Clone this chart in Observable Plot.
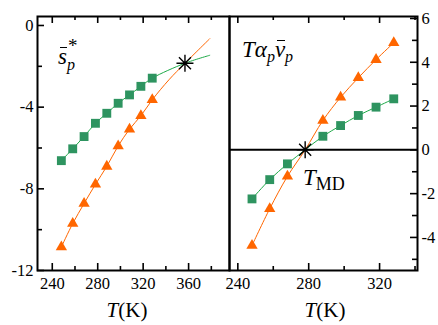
<!DOCTYPE html>
<html><head><meta charset="utf-8">
<script src="https://cdn.jsdelivr.net/npm/d3@7"></script>
<script src="https://cdn.jsdelivr.net/npm/@observablehq/plot@0.6"></script>
<style>
body{margin:0;background:#fff}
#wrap{position:relative;width:438px;height:325px;overflow:hidden;background:#fff}
#wrap svg{position:absolute;top:0}
.lab{position:absolute;font-family:"Liberation Serif",serif;line-height:1;white-space:nowrap;color:#000}
.ov{position:relative}
.ov::before{content:"";position:absolute;left:2px;right:0;top:3px;border-top:1.3px solid #000}
.ss{position:relative;display:inline-block;width:10px;height:1em}
.sp{position:absolute;left:1px;top:-2px;font-size:19px;line-height:0.75;font-style:normal}
.sb{position:absolute;left:0;top:17px;font-size:16px;line-height:0.85}
.sub{font-size:16px;vertical-align:-5px}
</style>
</head><body>
<div id="wrap"></div>
<script>
// ---------- data ----------
// left panel: s*_p vs T
const tempsLeft = [248, 258, 268, 278, 288, 298, 308, 318, 328];
const sGreen    = [-6.62, -6.04, -5.44, -4.79, -4.30, -3.81, -3.40, -2.98, -2.58];
const sOrange   = [-10.85, -9.70, -8.72, -7.78, -6.90, -5.90, -5.08, -4.42, -3.64];
// fitted-curve continuation beyond the symbols
const sGreenFitT  = [356.8, 378.6];
const sGreenFit   = [-1.85, -1.46];
const sOrangeFitT = [342.7, 356.8, 378.6];
const sOrangeFit  = [-2.66, -1.85, -0.65];
const crossLeftT = 356.8, crossLeftV = -1.85;

// right panel: T alpha_p v_p vs T
const tempsRight = [248, 258, 268, 288, 298, 308, 318, 328];
const tavGreen   = [-2.24, -1.36, -0.64, 0.62, 1.11, 1.57, 1.95, 2.33];
const tavOrange  = [-4.37, -2.69, -1.21, 1.34, 2.40, 3.29, 4.12, 4.89];
const tmdT = 278, tmdV = 0;

// ticks
const xMajorL = [240, 280, 320, 360];
const xMinorL = [260, 300, 340, 380];
const yMajorL = [-12, -8, -4, 0];
const yMinorL = [-10, -6, -2];
const xMajorR = [240, 280, 320];
const xMinorR = [260, 300, 340];
const yMajorR = [-4, -2, 0, 2, 4, 6];
const yMinorR = [-5, -3, -1, 1, 3, 5];

const GREEN = "#2e9460", GREENLINE = "#1eaa48", ORANGE = "#ff6600";

const star = {draw(ctx, size) {
  const r = Math.sqrt(size / Math.PI), d = r * Math.SQRT1_2;
  ctx.moveTo(-r, 0); ctx.lineTo(r, 0);
  ctx.moveTo(0, -r); ctx.lineTo(0, r);
  ctx.moveTo(-d, -d); ctx.lineTo(d, d);
  ctx.moveTo(-d, d); ctx.lineTo(d, -d);
}};

const font = {fontFamily: "'Liberation Serif', serif", fontSize: "16.5px", color: "black", background: "transparent", overflow: "visible"};
const fmt = d => String(d);

// build tables
const leftG = tempsLeft.map((t, i) => ({t, v: sGreen[i]}));
const leftO = tempsLeft.map((t, i) => ({t, v: sOrange[i]}));
const leftGLine = leftG.concat(sGreenFitT.map((t, i) => ({t, v: sGreenFit[i]})));
const leftOLine = leftO.concat(sOrangeFitT.map((t, i) => ({t, v: sOrangeFit[i]})));
const rightG = tempsRight.map((t, i) => ({t, v: tavGreen[i]}));
const rightO = tempsRight.map((t, i) => ({t, v: tavOrange[i]}));
const rightGLine = rightG.concat([{t: tmdT, v: tmdV}]).sort((a, b) => a.t - b.t);
const rightOLine = rightO.concat([{t: tmdT, v: tmdV}]).sort((a, b) => a.t - b.t);

function tickMarks(xMaj, xMin, yMaj, yMin, fw, fh, ySide) {
  const m = [];
  const add = (arr, len) => {
    m.push(Plot.tickX(arr, {x: d => d, insetTop: fh - len, strokeWidth: 1.6}));
    m.push(Plot.tickX(arr, {x: d => d, insetBottom: fh - len, strokeWidth: 1.6}));
  };
  add(xMaj, 7); add(xMin, 4);
  const addY = (arr, len) => {
    if (ySide === "left") m.push(Plot.tickY(arr, {y: d => d, insetRight: fw - len, strokeWidth: 1.6}));
    else m.push(Plot.tickY(arr, {y: d => d, insetLeft: fw - len, strokeWidth: 1.6}));
  };
  addY(yMaj, 7); addY(yMin, 5);
  return m;
}

// left
const L = {w: 235, h: 325, ml: 37, mr: 6, mt: 16, mb: 55};
const left = Plot.plot({
  width: L.w, height: L.h, marginLeft: L.ml, marginRight: L.mr, marginTop: L.mt, marginBottom: L.mb,
  x: {domain: [227, 396]}, y: {domain: [-12, 0.44]},
  style: font,
  marks: [
    ...tickMarks(xMajorL, xMinorL, yMajorL, yMinorL, L.w - L.ml - L.mr, L.h - L.mt - L.mb, "left"),
    Plot.axisX({ticks: xMajorL, tickSize: 0, tickPadding: 7, tickFormat: fmt, label: null}),
    Plot.axisY({ticks: yMajorL, tickSize: 0, tickPadding: 4, tickFormat: fmt, label: null}),
    Plot.line(leftGLine, {x: "t", y: "v", stroke: GREENLINE, strokeWidth: 1, curve: "catmull-rom"}),
    Plot.line(leftOLine, {x: "t", y: "v", stroke: ORANGE, strokeWidth: 1, curve: "catmull-rom"}),
    Plot.dot(leftG, {x: "t", y: "v", symbol: "square", r: 5, fill: GREEN}),
    Plot.dot(leftO, {x: "t", y: "v", symbol: "triangle", r: 4.2, fill: ORANGE}),
    Plot.dot([{t: crossLeftT, v: crossLeftV}], {x: "t", y: "v", symbol: star, r: 8.5, fill: "none", stroke: "black", strokeWidth: 1.4}),
    Plot.frame({strokeWidth: 2})
  ]
});
left.style.left = "0px";

// right
const R = {w: 213, h: 325, ml: 4, mr: 21, mt: 16, mb: 55};
const right = Plot.plot({
  width: R.w, height: R.h, marginLeft: R.ml, marginRight: R.mr, marginTop: R.mt, marginBottom: R.mb,
  x: {domain: [235.3, 341.4]}, y: {domain: [-5.51, 6.09]},
  style: font,
  marks: [
    ...tickMarks(xMajorR, xMinorR, yMajorR, yMinorR, R.w - R.ml - R.mr, R.h - R.mt - R.mb, "right"),
    Plot.axisX({ticks: xMajorR, tickSize: 0, tickPadding: 7, tickFormat: fmt, label: null}),
    Plot.axisY({anchor: "right", ticks: yMajorR, tickSize: 0, tickPadding: 4, tickFormat: fmt, label: null}),
    Plot.ruleY([0], {strokeWidth: 2}),
    Plot.line(rightGLine, {x: "t", y: "v", stroke: GREENLINE, strokeWidth: 1, curve: "catmull-rom"}),
    Plot.line(rightOLine, {x: "t", y: "v", stroke: ORANGE, strokeWidth: 1, curve: "catmull-rom"}),
    Plot.dot(rightG, {x: "t", y: "v", symbol: "square", r: 5, fill: GREEN}),
    Plot.dot(rightO, {x: "t", y: "v", symbol: "triangle", r: 4.2, fill: ORANGE}),
    Plot.dot([{t: tmdT, v: tmdV}], {x: "t", y: "v", symbol: star, r: 8.5, fill: "none", stroke: "black", strokeWidth: 1.4}),
    Plot.frame({strokeWidth: 2})
  ]
});
right.style.left = "225px";

const wrap = document.getElementById("wrap");
wrap.appendChild(left);
wrap.appendChild(right);

function label(html, x, y, size, center) {
  const d = document.createElement("div");
  d.className = "lab";
  d.style.left = x + "px"; d.style.top = y + "px"; d.style.fontSize = size + "px";
  if (center) d.style.transform = "translateX(-50%)";
  d.innerHTML = html;
  wrap.appendChild(d);
}
label('<i class="ov">s</i><span class="ss"><span class="sp">*</span><i class="sb">p</i></span>', 58, 41, 23);
label('<i>T</i><i>α</i><i class="sub">p</i><i class="ov">v</i><i class="sub">p</i>', 242, 38, 23);
label('<i>T</i><span class="sub" style="font-size:18px">MD</span>', 303, 166, 23);
label('<i>T</i>(K)', 127, 300, 21, true);
label('<i>T</i>(K)', 325, 300, 21, true);
</script>
</body></html>
